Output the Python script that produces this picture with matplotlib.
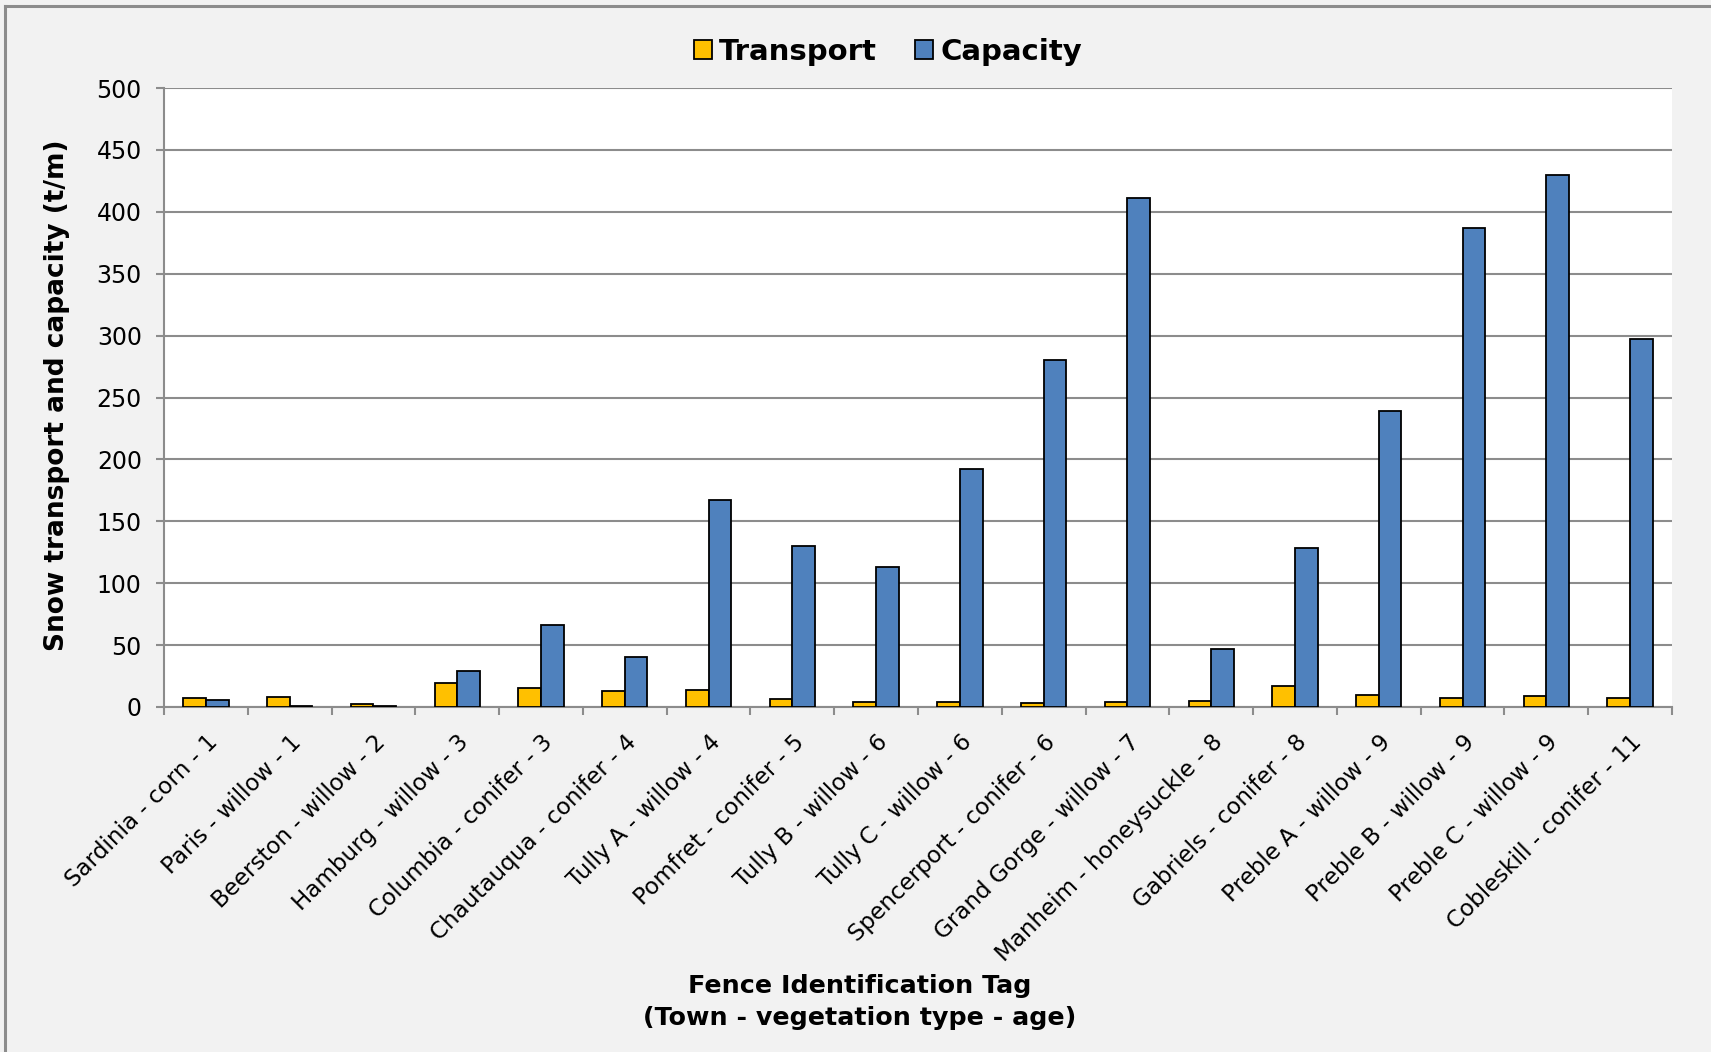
import matplotlib
matplotlib.use("Agg")
import matplotlib.pyplot as plt
import numpy as np
from matplotlib.lines import Line2D
from matplotlib.patches import Patch

# Fence sites (town - vegetation type - age)
fences = [
    "Sardinia - corn - 1", "Paris - willow - 1", "Beerston - willow - 2",
    "Hamburg - willow - 3", "Columbia - conifer - 3", "Chautauqua - conifer - 4",
    "Tully A - willow - 4", "Pomfret - conifer - 5", "Tully B - willow - 6",
    "Tully C - willow - 6", "Spencerport - conifer - 6", "Grand Gorge - willow - 7",
    "Manheim - honeysuckle - 8", "Gabriels - conifer - 8", "Preble A - willow - 9",
    "Preble B - willow - 9", "Preble C - willow - 9", "Cobleskill - conifer - 11",
]

# Snow transport (t/m)
transport = [7.5, 7.8, 2.7, 19.4, 15.0, 12.6, 13.4, 6.7, 4.0,
             4.0, 3.2, 3.8, 4.8, 16.7, 9.7, 7.0, 8.6, 7.5]

# Snow storage capacity of the fence (t/m)
capacity = [5.6, 0.5, 0.5, 29.0, 66.0, 40.3, 167.0, 130.0, 113.0,
            192.0, 280.0, 411.0, 47.0, 128.5, 239.0, 387.0, 429.5, 297.5]

y_ticks = [0, 50, 100, 150, 200, 250, 300, 350, 400, 450, 500]

W, H = 1711, 1052
fig = plt.figure(figsize=(W / 100, H / 100), dpi=100, facecolor="#f2f2f2")
plt.rcParams["font.family"] = ["DejaVu Sans"]

# frame of the chart area (top and left edges visible)
fig.add_artist(Line2D([5 / W, 5 / W], [0, 1 - 6 / H], transform=fig.transFigure,
                      color="#8c8c8c", lw=2.2))
fig.add_artist(Line2D([5 / W, 1], [1 - 6 / H, 1 - 6 / H], transform=fig.transFigure,
                      color="#8c8c8c", lw=2.2))

left, right, top, bottom = 164 / W, 1672 / W, 1 - 88 / H, 1 - 707 / H
ax = fig.add_axes([left, bottom, right - left, top - bottom])
ax.set_facecolor("white")

x = np.arange(len(fences))
bw = 0.27
c_trans = "#FFC000"
c_cap = "#4F81BD"
ax.bar(x - bw / 2, transport, bw, color=c_trans, edgecolor="black", linewidth=1.3, zorder=3)
ax.bar(x + bw / 2, capacity, bw, color=c_cap, edgecolor="black", linewidth=1.3, zorder=3)

ax.set_xlim(-0.5, len(fences) - 0.5)
ax.set_ylim(0, 500)
ax.set_yticks(y_ticks)
ax.yaxis.grid(True, color="#8c8c8c", lw=1.5, zorder=1)
ax.set_axisbelow(True)

for s in ["top", "right"]:
    ax.spines[s].set_visible(False)
for s in ["left", "bottom"]:
    ax.spines[s].set_color("#8c8c8c")
    ax.spines[s].set_linewidth(1.5)

ax.tick_params(axis="y", direction="out", length=6, width=1.5, color="#8c8c8c",
               labelsize=17, pad=10)
ax.set_xticks(x)
ax.set_xticklabels(fences, rotation=45, ha="right", rotation_mode="anchor", fontsize=16.6)
ax.set_xticks(np.arange(-0.5, len(fences)), minor=True)
ax.tick_params(axis="x", which="major", length=0, pad=17)
ax.tick_params(axis="x", which="minor", direction="out", length=6, width=1.5, color="#8c8c8c")

fig.text(57 / W, 1 - 395 / H, "Snow transport and capacity (t/m)", rotation=90,
         ha="center", va="center", fontsize=19, fontweight="bold")
fig.text(860 / W, 1 - 1002 / H, "Fence Identification Tag\n(Town - vegetation type - age)",
         ha="center", va="center", fontsize=18.3, fontweight="bold", linespacing=1.38)

handles = [Patch(facecolor=c_trans, edgecolor="black", linewidth=1.3, label="Transport"),
           Patch(facecolor=c_cap, edgecolor="black", linewidth=1.3, label="Capacity")]
fig.legend(handles=handles, loc="center", bbox_to_anchor=(888 / W, 1 - 52 / H), ncol=2,
           frameon=False, prop={"weight": "bold", "size": 21}, handlelength=0.62,
           handleheight=0.62, handletextpad=0.25, columnspacing=1.3)

fig.savefig("out.png", dpi=100, facecolor=fig.get_facecolor())
